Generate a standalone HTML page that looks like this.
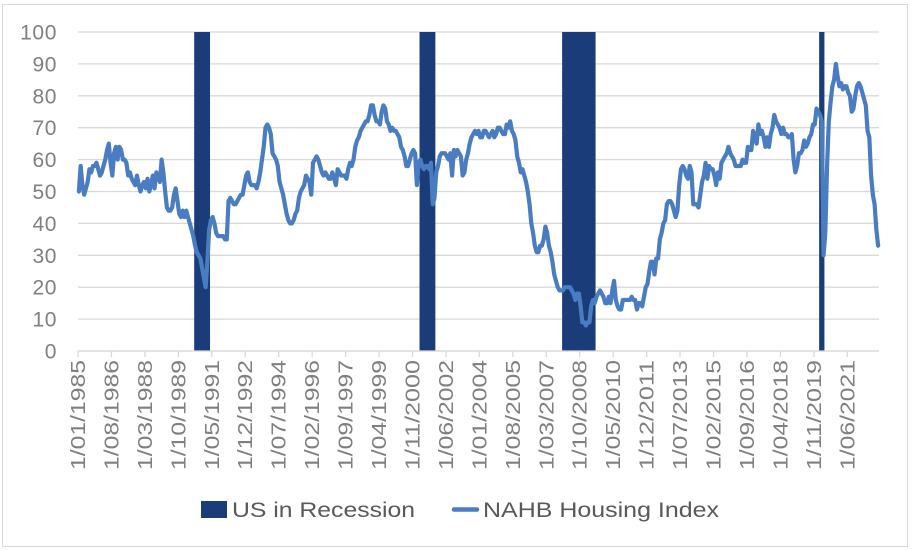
<!DOCTYPE html>
<html><head><meta charset="utf-8"><style>
html,body{margin:0;padding:0;background:#fff;}
svg{display:block;font-family:"Liberation Sans",sans-serif;}
</style></head><body>
<svg id="chart" width="912" height="550">
<rect x="2.5" y="4.5" width="905" height="542" fill="#fff" stroke="#d9d9d9"/>
<g id="grid"></g>
<g id="rec"></g>
<g id="yax"></g>
<g id="xax"></g>
<g id="ser"></g>
<g>
<rect x="201" y="501" width="26" height="17" fill="#1a3c78"/>
<text x="232" y="517" font-size="21" fill="#595959" textLength="183" lengthAdjust="spacingAndGlyphs">US in Recession</text>
<line x1="454" y1="509.5" x2="477" y2="509.5" stroke="#4a7cc2" stroke-width="4.5" stroke-linecap="round"/>
<text x="483" y="517" font-size="21" fill="#595959" textLength="236" lengthAdjust="spacingAndGlyphs">NAHB Housing Index</text>
</g>
</svg>
<script>
const startYear = 1985;
const nahbValues = [
50,58,52,49,51,53,57,56,58,58,59,57,
55,56,58,60,63,65,59,55,62,64,60,64,
63,60,60,59,55,56,54,53,52,55,52,50,
52,53,51,54,50,52,55,51,56,55,53,60,
56,50,45,44,44,45,49,51,47,43,42,44,
42,44,42,40,38,36,33,31,30,29,26,23,
20,28,38,41,42,40,37,36,36,36,36,35,
35,47,48,47,46,46,47,48,49,49,52,55,
56,53,52,52,52,51,53,56,60,64,70,71,
70,68,62,61,60,58,53,51,49,46,43,41,
40,40,41,43,44,48,50,51,52,55,54,53,
49,59,60,61,60,58,56,55,56,55,54,54,
56,54,52,57,56,55,55,55,54,57,59,58,
60,64,66,67,69,70,71,72,72,74,77,77,
74,72,72,71,75,77,76,72,71,69,70,69,
69,68,67,64,63,61,58,58,60,62,63,62,
52,59,60,58,57,58,58,57,59,46,48,56,
58,61,62,62,62,61,60,62,55,63,61,63,
62,61,55,56,60,62,65,67,68,69,68,69,
67,67,69,69,68,67,68,69,67,68,70,70,
69,68,68,71,70,72,69,68,66,61,59,56,
57,55,53,50,46,40,37,33,31,31,33,33,
35,39,37,33,31,28,24,22,20,19,19,19,
20,20,20,20,19,18,16,18,18,14,9,9,
8,9,9,14,16,15,17,18,19,18,17,15,
15,17,15,19,22,16,14,13,13,16,16,16,
16,16,17,16,16,13,15,15,14,17,20,21,
25,28,28,24,29,29,35,37,40,41,46,47,
47,46,44,42,44,52,57,58,57,55,54,58,
56,46,46,46,45,49,53,55,59,54,58,57,
57,55,52,56,54,59,60,61,62,64,62,61,
60,58,58,58,58,60,59,59,64,63,63,69,
67,65,71,68,69,67,64,67,64,68,70,74,
72,71,70,68,70,68,68,67,67,68,60,56,
58,62,62,63,66,64,65,67,68,71,71,76,
75,74,72,30,37,58,72,78,83,85,90,86,
83,84,82,83,83,81,80,75,76,80,83,84,
83,81,79,77,69,67,55,49,46,38,33
];
const recessionStarts = ["1990-07","2001-03","2007-12","2020-02"];
const recessionEnds = ["1991-03","2001-11","2009-06","2020-04"];
const yTicks = [0,10,20,30,40,50,60,70,80,90,100];
const xTickLabels = ["1/01/1985","1/08/1986","1/03/1988","1/10/1989","1/05/1991","1/12/1992","1/07/1994","1/02/1996","1/09/1997","1/04/1999","1/11/2000","1/06/2002","1/01/2004","1/08/2005","1/03/2007","1/10/2008","1/05/2010","1/12/2011","1/07/2013","1/02/2015","1/09/2016","1/04/2018","1/11/2019","1/06/2021"];

const NS="http://www.w3.org/2000/svg";
const X0=78, X1=879, Y0=351, Y1=32;
const nM = nahbValues.length;
const x = m => X0 + m*(X1-X0)/nM;
const y = v => Y0 - v*(Y0-Y1)/100;
const monthIdx = s => { const [yy,mm]=s.split("-").map(Number); return (yy-startYear)*12+(mm-1); };
const labelIdx = s => { const p=s.split("/"); return (Number(p[2])-startYear)*12+Number(p[1])-1; };
function mk(tag, attrs, parent){ const e=document.createElementNS(NS,tag); for(const k in attrs) e.setAttribute(k,attrs[k]); parent.appendChild(e); return e; }

const grid=document.getElementById('grid'), yax=document.getElementById('yax');
yTicks.forEach(t=>{
  const gl=mk('line',{x1:X0,x2:X1,y1:y(t),y2:y(t),stroke:'#d9d9d9','stroke-width':1.3},grid);
  
  
  const tx=mk('text',{x:57,y:y(t)+7.5,'text-anchor':'end','font-size':21,'letter-spacing':0.6,fill:'#7f7f7f'},yax);
  tx.textContent=t;
  
  
});

const rec=document.getElementById('rec');
recessionStarts.forEach((s,i)=>{
  const a=monthIdx(s), b=monthIdx(recessionEnds[i])+1;
  const r=mk('rect',{x:x(a),y:Y1,width:x(b)-x(a),height:Y0-Y1,fill:'#1a3c78'},rec);
  
  
});

const xax=document.getElementById('xax');
const ax=mk('line',{x1:X0,x2:X1,y1:Y0,y2:Y0,stroke:'#d9d9d9','stroke-width':1.3},xax);


xTickLabels.forEach(l=>{
  const xx=x(labelIdx(l));
  const tk=mk('line',{x1:xx,x2:xx,y1:Y0,y2:Y0+6,stroke:'#d9d9d9','stroke-width':1.3},xax);
  
  
  const tx=mk('text',{x:0,y:0,'text-anchor':'end','font-size':20,fill:'#7f7f7f',textLength:110,lengthAdjust:'spacingAndGlyphs',transform:`translate(${xx+7},${Y0+9}) rotate(-90)`},xax);
  tx.textContent=l;
  
  
});

const ser=document.getElementById('ser');
const pts=nahbValues.map((v,m)=>x(m+0.5).toFixed(2)+','+y(v).toFixed(2)).join(' ');
const pl=mk('polyline',{points:pts,fill:'none',stroke:'#4a7cc2','stroke-width':4.2,'stroke-linejoin':'round','stroke-linecap':'round'},ser);


</script>
</body></html>
